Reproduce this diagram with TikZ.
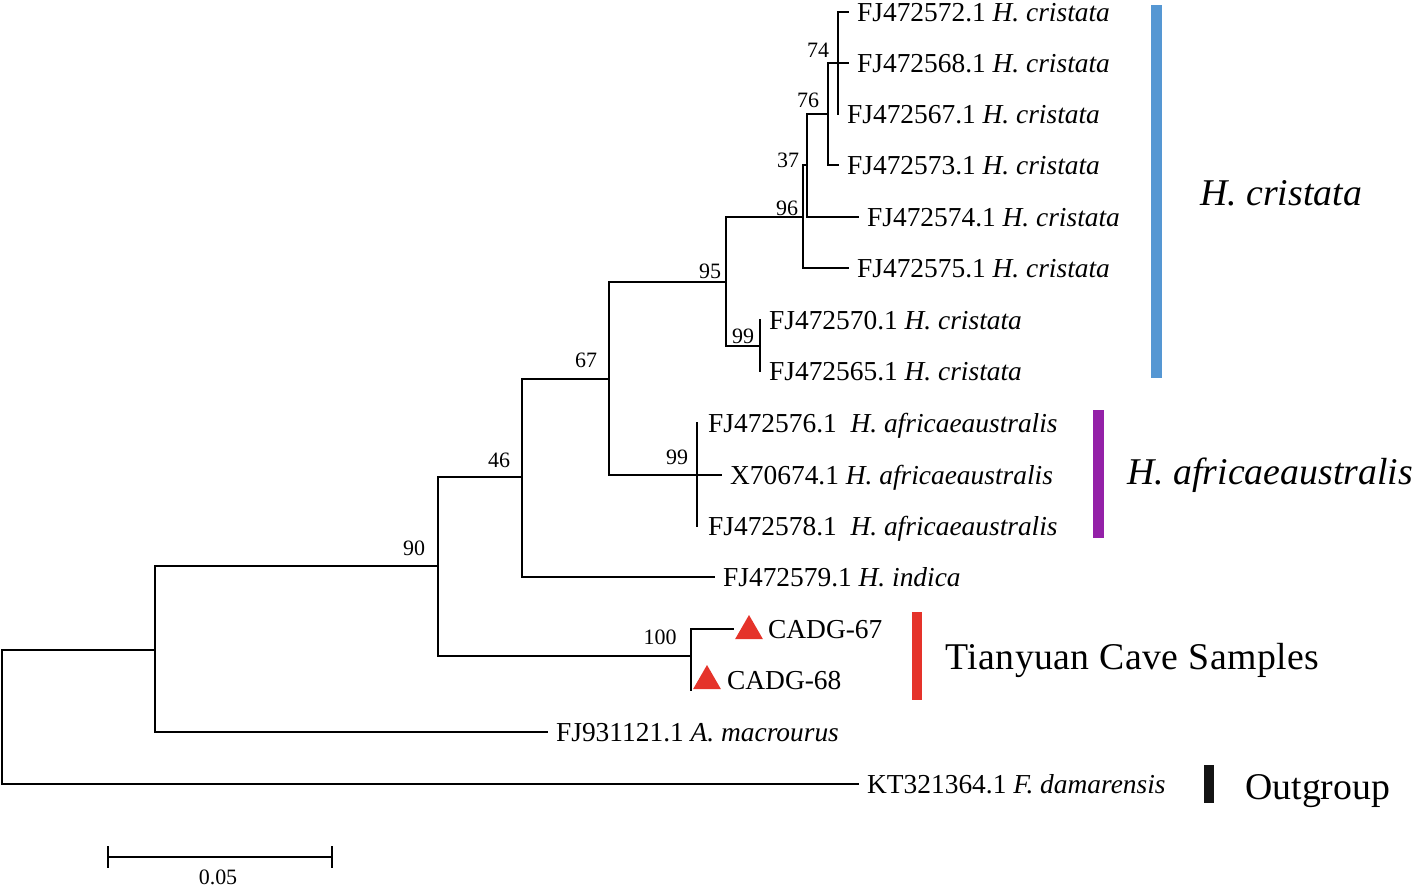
\documentclass[tikz,border=0pt]{standalone}
\usepackage{fontspec}
\setmainfont{Liberation Serif}
\newfontfamily\spacedserif[LetterSpace=1.2]{Liberation Serif}
\usetikzlibrary{shapes.geometric}
\definecolor{cblue}{HTML}{5597D3}
\definecolor{cpurple}{HTML}{9421A8}
\definecolor{cred}{HTML}{E5332A}
\definecolor{cblack}{HTML}{141414}
\begin{document}
\begin{tikzpicture}[x=0.02cm,y=-0.02cm,
  br/.style={line width=1.13pt, line cap=rect},
  leaf/.style={anchor=west, inner xsep=5pt, inner ysep=0pt, text height=11.5pt, text depth=1.2pt, font=\fontsize{15.6}{18}\selectfont},
  boot/.style={inner sep=0pt, text height=8.5pt, text depth=0pt, font=\fontsize{12.5}{14}\selectfont},
  big/.style={anchor=west, inner sep=0pt, text height=15pt, text depth=0.8pt, font=\fontsize{21.5}{25}\selectfont},
  tri/.style={regular polygon, regular polygon sides=3, fill=cred, inner sep=0pt, minimum size=0.64cm}]
\useasboundingbox (0,0) rectangle (1419,889);

% internal nodes (x of node, y of incoming branch)
\coordinate (R) at (2,650);
\coordinate (A) at (155,650);
\coordinate (B) at (438,566);
\coordinate (C) at (522,477);
\coordinate (D) at (609,379);
\coordinate (E) at (726,282);
\coordinate (F) at (803,217);
\coordinate (H) at (807,165);
\coordinate (I) at (828,114);
\coordinate (J) at (838,63);
\coordinate (G) at (760,346);
\coordinate (Af) at (697,475);
\coordinate (Cd) at (691,656);

% leaves
\node[leaf] (l572) at (848,12) {FJ472572.1 \textit{H. cristata}};
\node[leaf] (l568) at (848,63) {FJ472568.1 \textit{H. cristata}};
\node[leaf] (l567) at (838,114) {FJ472567.1 \textit{H. cristata}};
\node[leaf] (l573) at (838,165) {FJ472573.1 \textit{H. cristata}};
\node[leaf] (l574) at (858,217) {FJ472574.1 \textit{H. cristata}};
\node[leaf] (l575) at (848,268) {FJ472575.1 \textit{H. cristata}};
\node[leaf] (l570) at (760,320) {FJ472570.1 \textit{H. cristata}};
\node[leaf] (l565) at (760,371) {FJ472565.1 \textit{H. cristata}};
\node[leaf] (l576) at (699,423) {FJ472576.1\ \ \textit{H. africaeaustralis}};
\node[leaf] (l674) at (721,475) {X70674.1 \textit{H. africaeaustralis}};
\node[leaf] (l578) at (699,526) {FJ472578.1\ \ \textit{H. africaeaustralis}};
\node[leaf] (l579) at (714,577) {FJ472579.1 \textit{H. indica}};
\node[leaf] (l121) at (547,732) {FJ931121.1 \textit{A. macrourus}};
\node[leaf] (lKT) at (858,784) {KT321364.1 \textit{F. damarensis}};

\coordinate (e67) at (733,629);
\coordinate (e68) at (691,690);
\node[tri] (t67) at (749,631) {};
\node[tri] (t68) at (707,681) {};
\node[leaf] (c67) at (759,629) {CADG-67};
\node[leaf] (c68) at (718,680) {CADG-68};

% branches
\draw[br] (R |- lKT) -- (R);
\draw[br] (R) -- (A);
\draw[br] (R |- lKT) -- (lKT.west);

\draw[br] (A |- B) -- (A |- l121);
\draw[br] (A |- B) -- (B);
\draw[br] (A |- l121) -- (l121.west);

\draw[br] (B |- C) -- (B |- Cd);
\draw[br] (B |- C) -- (C);
\draw[br] (B |- Cd) -- (Cd);

\draw[br] (Cd |- e67) -- (e68);
\draw[br] (Cd |- e67) -- (e67);

\draw[br] (C |- D) -- (C |- l579);
\draw[br] (C |- D) -- (D);
\draw[br] (C |- l579) -- (l579.west);

\draw[br] (D |- E) -- (D |- Af);
\draw[br] (D |- E) -- (E);
\draw[br] (D |- Af) -- (Af);

\draw[br] (Af |- l576) -- (Af |- l578);
\draw[br] (Af) -- (l674.west);

\draw[br] (E |- F) -- (E |- G);
\draw[br] (E |- F) -- (F);
\draw[br] (E |- G) -- (G);

\draw[br] (G |- l570) -- (G |- l565);

\draw[br] (F |- H) -- (F |- l575);
\draw[br] (F |- H) -- (H);
\draw[br] (F |- l575) -- (l575.west);

\draw[br] (H |- I) -- (H |- l574);
\draw[br] (H |- I) -- (I);
\draw[br] (H |- l574) -- (l574.west);

\draw[br] (I |- J) -- (I |- l573);
\draw[br] (I |- J) -- (J);
\draw[br] (I |- l573) -- (l573.west);

\draw[br] (J |- l572) -- (J |- l567);
\draw[br] (J |- l572) -- (l572.west);
\draw[br] (J) -- (l568.west);

% bootstrap values
\node[boot] (b74) at (818,50) {74};
\node[boot] (b76) at (808,100) {76};
\node[boot] (b37) at (788,160) {37};
\node[boot] (b96) at (787,208) {96};
\node[boot] (b95) at (710,271) {95};
\node[boot] (b99g) at (743,336) {99};
\node[boot] (b67) at (586,360) {67};
\node[boot] (b99a) at (677,457) {99};
\node[boot] (b46) at (499,460) {46};
\node[boot] (b90) at (414,548) {90};
\node[boot] (b100) at (660,637) {100};

% clade bars and labels
\fill[cblue] (1151,5) rectangle (1162,378);
\fill[cpurple] (1093,410) rectangle (1104,538);
\fill[cred] (912,612) rectangle (922,700);
\fill[cblack] (1204,765) rectangle (1214,803);
\node[big] (gcr) at (1200,193) {\textit{H. cristata}};
\node[big] (gaf) at (1127,472) {\textit{H. africaeaustralis}};
\node[big] (gty) at (945,657) {\spacedserif Tianyuan Cave Samples};
\node[big] (gout) at (1245,787) {Outgroup};

% scale bar
\coordinate (sbL) at (108,857);
\coordinate (sbR) at (332,857);
\draw[br] (sbL) -- (sbR);
\draw[br] ([yshift=0.2cm]sbL) -- ([yshift=-0.2cm]sbL);
\draw[br] ([yshift=0.2cm]sbR) -- ([yshift=-0.2cm]sbR);
\node[boot] (sbt) at (218,877) {0.05};
\end{tikzpicture}
\end{document}
